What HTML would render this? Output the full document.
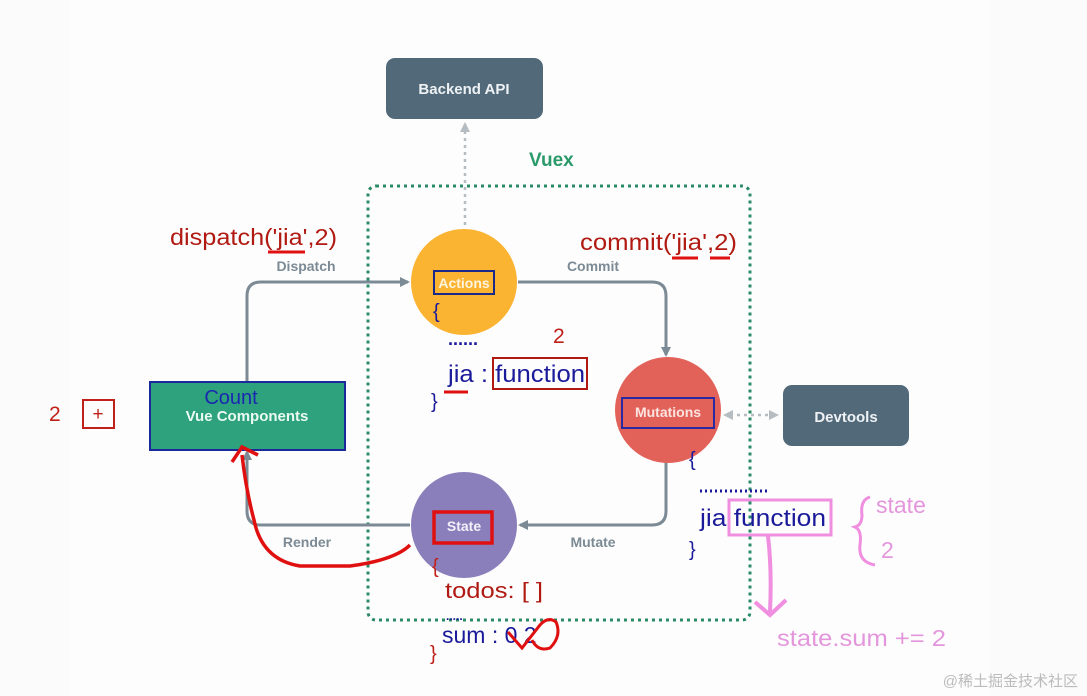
<!DOCTYPE html>
<html><head><meta charset="utf-8"><style>
html,body{margin:0;padding:0;background:#fff;}
svg{display:block;}
</style></head><body>
<svg width="1087" height="696" viewBox="0 0 1087 696" xmlns="http://www.w3.org/2000/svg" font-family="Liberation Sans, sans-serif">
<rect x="0" y="0" width="1087" height="696" fill="#fbfbfb"/>
<rect x="70" y="0" width="920" height="696" fill="#fdfdfd"/>
<defs>
<marker id="ag" markerWidth="10" markerHeight="10" refX="8" refY="5" orient="auto" markerUnits="userSpaceOnUse"><path d="M0,0 L10,5 L0,10 z" fill="#7b8a94"/></marker>
<marker id="al" markerWidth="10" markerHeight="10" refX="8" refY="5" orient="auto" markerUnits="userSpaceOnUse"><path d="M0,0 L10,5 L0,10 z" fill="#b5bcc2"/></marker>
</defs>
<rect x="386" y="58" width="157" height="61" rx="9" fill="#52697a"/>
<text x="464" y="94" text-anchor="middle" fill="#eef2f4" font-size="15" font-weight="bold">Backend API</text>
<line x1="465" y1="225" x2="465" y2="124" stroke="#b5bcc2" stroke-width="2.5" stroke-dasharray="3,4" marker-end="url(#al)"/>
<text x="529" y="166" fill="#2a9a6a" font-size="19" font-weight="bold">Vuex</text>
<rect x="368" y="186" width="382" height="434" rx="8" fill="none" stroke="#2a8a66" stroke-width="3" stroke-dasharray="3,4"/>
<path d="M247,382 V296 Q247,282 261,282 H408" fill="none" stroke="#7b8a94" stroke-width="3" marker-end="url(#ag)"/>
<path d="M518,282 H652 Q666,282 666,296 V355" fill="none" stroke="#7b8a94" stroke-width="3" marker-end="url(#ag)"/>
<path d="M666,462 V511 Q666,525 652,525 H520" fill="none" stroke="#7b8a94" stroke-width="3" marker-end="url(#ag)"/>
<path d="M410,525 H261 Q247,525 247,511 V452" fill="none" stroke="#7b8a94" stroke-width="3" marker-end="url(#ag)"/>
<text x="306" y="271" text-anchor="middle" fill="#7b8a94" font-size="14" font-weight="bold">Dispatch</text>
<text x="593" y="271" text-anchor="middle" fill="#7b8a94" font-size="14" font-weight="bold">Commit</text>
<text x="307" y="547" text-anchor="middle" fill="#7b8a94" font-size="14" font-weight="bold">Render</text>
<text x="593" y="547" text-anchor="middle" fill="#7b8a94" font-size="14" font-weight="bold">Mutate</text>
<circle cx="464" cy="282" r="53" fill="#fbb332"/>
<rect x="434" y="271" width="60" height="23" fill="none" stroke="#1a2a8a" stroke-width="2"/>
<text x="464" y="288" text-anchor="middle" fill="#fff4dc" font-size="14" font-weight="bold">Actions</text>
<circle cx="668" cy="410" r="53" fill="#e2625a"/>
<rect x="622" y="398" width="92" height="30" fill="none" stroke="#2a2aa0" stroke-width="2"/>
<text x="668" y="417" text-anchor="middle" fill="#fbe4e0" font-size="14" font-weight="bold">Mutations</text>
<circle cx="464" cy="525" r="53" fill="#8b7fbb"/>
<rect x="434" y="512" width="58" height="31" fill="none" stroke="#e01010" stroke-width="3.5"/>
<text x="464" y="531" text-anchor="middle" fill="#f2f0f8" font-size="14" font-weight="bold">State</text>
<rect x="150" y="382" width="195" height="68" fill="#2ea27c" stroke="#1a2a9a" stroke-width="2"/>
<text x="231" y="404" text-anchor="middle" fill="#1a28b0" font-size="20">Count</text>
<text x="247" y="421" text-anchor="middle" fill="#eafaf2" font-size="15" font-weight="bold">Vue Components</text>
<rect x="783" y="385" width="126" height="61" rx="9" fill="#52697a"/>
<text x="846" y="422" text-anchor="middle" fill="#eef2f4" font-size="15" font-weight="bold">Devtools</text>
<line x1="730" y1="415" x2="777" y2="415" stroke="#b5bcc2" stroke-width="2.5" stroke-dasharray="3,4" marker-end="url(#al)"/>
<path d="M733,410 L723,415 L733,420 z" fill="#b5bcc2"/>
<text x="49" y="421" fill="#c0201a" font-size="21">2</text>
<rect x="83" y="400" width="31" height="28" fill="none" stroke="#c0201a" stroke-width="2"/>
<text x="98" y="420" text-anchor="middle" fill="#c0201a" font-size="19">+</text>
<text x="170" y="245" fill="#b01a12" font-size="23" textLength="167" lengthAdjust="spacingAndGlyphs">dispatch('jia',2)</text>
<path d="M268,252 H305" stroke="#e01010" stroke-width="3"/>
<text x="580" y="250" fill="#b01a12" font-size="23" textLength="157" lengthAdjust="spacingAndGlyphs">commit('jia',2)</text>
<path d="M672,258 H698 M710,258 H730" stroke="#e01010" stroke-width="3"/>
<text x="433" y="318" fill="#1a1a9a" font-size="20">{</text>
<text x="448" y="345" fill="#1a1a9a" font-size="18" font-weight="bold">......</text>
<text x="553" y="343" fill="#c0201a" font-size="21">2</text>
<text x="448" y="382" fill="#1a1a9a" font-size="24" textLength="137" lengthAdjust="spacingAndGlyphs">jia : function</text>
<rect x="493" y="358" width="94" height="31" fill="none" stroke="#b01a12" stroke-width="2"/>
<path d="M444,392 H468" stroke="#e01010" stroke-width="3"/>
<text x="431" y="408" fill="#1a1a9a" font-size="20">}</text>
<text x="689" y="466" fill="#1a1a9a" font-size="20">{</text>
<path d="M700,491 H768" stroke="#1a1a9a" stroke-width="3" stroke-dasharray="2,3"/>
<text x="700" y="526" fill="#1a1a9a" font-size="24" textLength="126" lengthAdjust="spacingAndGlyphs">jia function</text>
<rect x="729" y="500" width="102" height="35" fill="none" stroke="#f08ee0" stroke-width="3"/>
<text x="689" y="556" fill="#1a1a9a" font-size="20">}</text>
<path d="M768,536 Q772,570 770,612 M755,602 L770,615 L786,600" fill="none" stroke="#f08ee0" stroke-width="4"/>
<text x="777" y="646" fill="#e496dc" font-size="23" textLength="169" lengthAdjust="spacingAndGlyphs">state.sum += 2</text>
<path d="M870,497 Q860,500 862,515 Q862,525 855,527 Q862,530 860,545 Q858,562 875,565" fill="none" stroke="#f08ee0" stroke-width="3"/>
<text x="876" y="513" fill="#e496dc" font-size="23">state</text>
<text x="881" y="558" fill="#e496dc" font-size="23">2</text>
<text x="432" y="573" fill="#c0201a" font-size="20">{</text>
<text x="445" y="598" fill="#b01a12" font-size="22" textLength="98" lengthAdjust="spacingAndGlyphs">todos: [ ]</text>
<text x="446" y="620" fill="#1a1a9a" font-size="12" font-weight="bold">.....</text>
<text x="442" y="643" fill="#1a1a9a" font-size="23">sum : 0 2</text>
<text x="430" y="660" fill="#c0201a" font-size="20">}</text>
<path d="M508,632 L522,648 L540,625 Q548,616 556,622 Q562,636 550,648 Q538,652 532,640" fill="none" stroke="#e01010" stroke-width="3"/>
<path d="M410,545 Q395,560 350,566 L300,566 Q262,560 254,520 Q246,490 242,455 M232,462 L242,447 L258,455" fill="none" stroke="#e01010" stroke-width="3.5"/>
<text x="1078" y="686" text-anchor="end" fill="#bbbbbb" font-size="15" font-family="Liberation Sans, Noto Sans CJK SC, sans-serif">@稀土掘金技术社区</text>
</svg>
</body></html>
